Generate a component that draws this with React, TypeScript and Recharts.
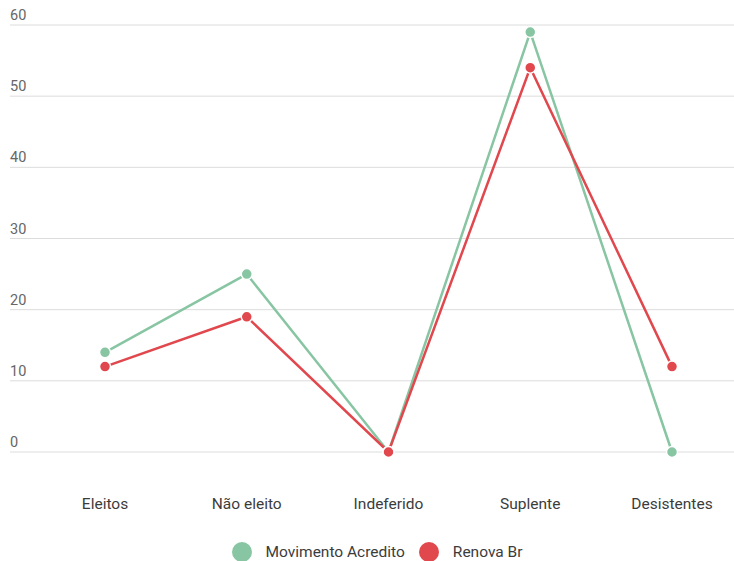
import React from "react";
import { LineChart, Line, XAxis, YAxis, CartesianGrid, Legend } from "recharts";

const categories = ["Eleitos", "Não eleito", "Indeferido", "Suplente", "Desistentes"];
const movimentoAcredito = [14, 25, 0, 59, 0];
const renovaBr = [12, 19, 0, 54, 12];
const yTicks = [0, 10, 20, 30, 40, 50, 60];

const GREEN = "#88c5a2";
const RED = "#e0484e";
const FONT = "Roboto, 'Noto Sans', sans-serif";

const data = categories.map((c, i) => ({
  name: c,
  acredito: movimentoAcredito[i],
  renova: renovaBr[i],
}));

const YTick = (props: any) => {
  const { x, y, payload } = props;
  return (
    <text x={x} y={y - 5} textAnchor="start" fill="#666" fontSize={14.5} fontFamily={FONT}>
      {payload.value}
    </text>
  );
};

const XTick = (props: any) => {
  const { x, y, payload } = props;
  return (
    <text x={x} y={y + 57} textAnchor="middle" fill="#3c3c3c" fontSize={15.5} fontFamily={FONT}>
      {payload.value}
    </text>
  );
};

const LegendContent = () => {
  const items = [
    { label: "Movimento Acredito", color: GREEN },
    { label: "Renova Br", color: RED },
  ];
  return (
    <div style={{ display: "flex", justifyContent: "center", alignItems: "center", fontFamily: FONT, fontSize: 15.5, color: "#3c3c3c", paddingLeft: 34, paddingTop: 11, lineHeight: "20px" }}>
      {items.map((it) => (
        <div key={it.label} style={{ display: "flex", alignItems: "center", marginRight: 14 }}>
          <svg width={20} height={20} style={{ marginRight: 14, display: "block" }}>
            <circle cx={10} cy={10} r={10} fill={it.color} />
          </svg>
          <span>{it.label}</span>
        </div>
      ))}
    </div>
  );
};

export default function App() {
  return (
    <div style={{ position: "absolute", left: 0, top: 0, width: 734, height: 561, overflow: "hidden", background: "#fff" }}>
      <LineChart width={734} height={561} data={data} margin={{ top: 25, right: 0, bottom: 0, left: 0 }}>
        <CartesianGrid vertical={false} stroke="#dcdcdc" strokeWidth={1} />
        <XAxis
          dataKey="name"
          axisLine={false}
          tickLine={false}
          tickSize={0}
          tickMargin={0}
          height={79}
          interval={0}
          padding={{ left: 95, right: 62 }}
          tick={<XTick />}
        />
        <YAxis
          domain={[0, 60]}
          ticks={yTicks}
          width={10}
          axisLine={false}
          tickLine={false}
          tickSize={0}
          tickMargin={0}
          tick={<YTick />}
          interval={0}
        />
        <Legend verticalAlign="bottom" height={30} content={<LegendContent />} />
        <Line
          type="linear"
          dataKey="acredito"
          name="Movimento Acredito"
          stroke={GREEN}
          strokeWidth={2.5}
          dot={{ r: 5.5, fill: GREEN, stroke: "#fff", strokeWidth: 1.5 }}
          isAnimationActive={false}
        />
        <Line
          type="linear"
          dataKey="renova"
          name="Renova Br"
          stroke={RED}
          strokeWidth={2.5}
          dot={{ r: 5.5, fill: RED, stroke: "#fff", strokeWidth: 1.5 }}
          isAnimationActive={false}
        />
      </LineChart>
    </div>
  );
}
